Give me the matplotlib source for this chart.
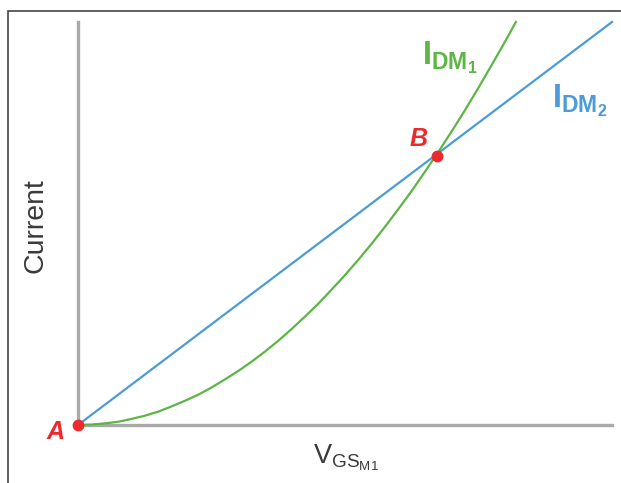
import matplotlib
matplotlib.use("Agg")
import matplotlib.pyplot as plt
from matplotlib.patches import Rectangle

plt.rcParams["font.family"] = ["Liberation Sans", "DejaVu Sans"]
plt.rcParams["mathtext.fontset"] = "custom"
plt.rcParams["mathtext.rm"] = "Liberation Sans"
plt.rcParams["mathtext.bf"] = "Liberation Sans:bold"
plt.rcParams["mathtext.it"] = "Liberation Sans:italic"

# gate voltage (normalised to axis length) and the two drain currents
v_gs = [0.0, 0.025, 0.05, 0.075, 0.10, 0.125, 0.15, 0.175, 0.20, 0.225,
        0.25, 0.275, 0.30, 0.325, 0.35, 0.375, 0.40, 0.425, 0.45, 0.475,
        0.50, 0.525, 0.55, 0.575, 0.60, 0.625, 0.65, 0.675, 0.70, 0.725,
        0.75, 0.775, 0.80, 0.82]
i_dm1 = [0.0, 0.001, 0.004, 0.008, 0.015, 0.023, 0.033, 0.046, 0.060, 0.075,
         0.093, 0.113, 0.134, 0.157, 0.182, 0.209, 0.238, 0.269, 0.301, 0.336,
         0.372, 0.410, 0.450, 0.492, 0.536, 0.581, 0.629, 0.678, 0.729, 0.782,
         0.837, 0.894, 0.952, 1.0]
v_lin = [0.0, 1.0]
i_dm2 = [0.0, 1.0]

# operating points
pt_a = (0.0, 0.0)
pt_b = (0.672, 0.668)

green = "#5cb544"
blue = "#4a9bd8"
red = "#ec2a2e"
grey = "#a9a9a9"

fig = plt.figure(figsize=(6.21, 4.83), dpi=100)
ax = fig.add_axes([78 / 621, 58 / 483, 534 / 621, 403 / 483])

ax.plot(v_lin, i_dm2, color=blue, lw=1.6, clip_on=False, zorder=3)
ax.plot(v_gs, i_dm1, color=green, lw=1.6, clip_on=False, zorder=3)
ax.plot(*pt_a, "o", color=red, ms=7.5, clip_on=False, zorder=5)
ax.plot(*pt_b, "o", color=red, ms=7.5, clip_on=False, zorder=5)

ax.set_xlim(0, 1)
ax.set_ylim(0, 1)
for s in ["top", "right"]:
    ax.spines[s].set_visible(False)
for s in ["left", "bottom"]:
    ax.spines[s].set_color(grey)
    ax.spines[s].set_linewidth(2.4)
ax.set_xticks([])
ax.set_yticks([])

# point labels
ax.text(-0.043, -0.018, "A", color=red, fontsize=18, fontweight="bold",
        style="italic", ha="center", va="center")
ax.text(0.637, 0.71, "B", color=red, fontsize=18,
        fontweight="bold", style="italic", ha="center", va="center")

# curve labels
ax.text(0.645, 0.912, r"$\mathbf{I_{DM_1}}$", color=green, fontsize=23.5,
        ha="left", va="center")
ax.text(0.887, 0.805, r"$\mathbf{I_{DM_2}}$", color=blue, fontsize=23.5,
        ha="left", va="center")

# axis titles
fig.text(36 / 621, 1 - 226 / 483, "Current", rotation=90, fontsize=20.5,
         color="#3a3a3a", ha="center", va="center")
fig.text(346 / 621, 1 - 458 / 483, r"$\mathregular{V_{GS_{M1}}}$", fontsize=19.5,
         color="#3a3a3a", ha="center", va="center")

# outer frame
fig.patches.append(Rectangle((8 / 621, -0.2), 1.2, 1 - 11 / 483 + 0.2,
                             transform=fig.transFigure, fill=False,
                             edgecolor="#444444", lw=1.2))

fig.savefig("out.png", dpi=100)
